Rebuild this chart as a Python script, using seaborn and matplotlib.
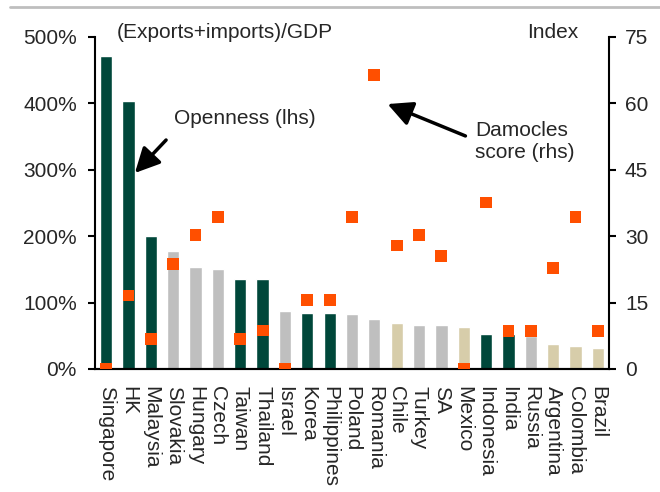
import numpy as np
import pandas as pd
import matplotlib.pyplot as plt
from matplotlib.lines import Line2D
import seaborn as sns

# Chart data
countries = ['Singapore', 'HK', 'Malaysia', 'Slovakia', 'Hungary', 'Czech', 'Taiwan',
             'Thailand', 'Israel', 'Korea', 'Philippines', 'Poland', 'Romania', 'Chile',
             'Turkey', 'SA', 'Mexico', 'Indonesia', 'India', 'Russia', 'Argentina',
             'Colombia', 'Brazil']
openness = [471, 404, 200, 177, 153, 151, 135, 135, 88, 85, 85, 83, 76, 70,
            67, 67, 64, 52, 52, 50, 37, 34, 31]
damocles = [0, 16.6, 6.8, 23.8, 30.3, 34.4, 6.8, 8.7, 0, 15.6, 15.6, 34.4, 66.4, 27.9,
            30.3, 25.5, 0, 37.6, 8.6, 8.6, 22.9, 34.3, 8.6]
group = ['d', 'd', 'd', 'g', 'g', 'g', 'd', 'd', 'g', 'd', 'd', 'g', 'g', 't',
         'g', 'g', 't', 'd', 'd', 'g', 't', 't', 't']
group_colors = {'d': '#00473a', 'g': '#bfbfbf', 't': '#d7cdaa'}

data = pd.DataFrame({'country': countries, 'openness': openness,
                     'damocles': damocles, 'group': group})

sns.set_style('white')
plt.rcParams['font.family'] = ['Liberation Sans', 'DejaVu Sans']
plt.rcParams['font.size'] = 15

fig = plt.figure(figsize=(6.6, 4.92), dpi=100)
ax = fig.add_axes([95 / 660, 1 - 369 / 492, 514 / 660, 332 / 492])

palette = [group_colors[g] for g in group]
sns.barplot(data=data, x='country', y='openness', hue='country', palette=palette,
            width=0.55, legend=False, ax=ax, saturation=1)

ax2 = ax.twinx()
sns.scatterplot(data=data, x='country', y='damocles', ax=ax2, marker='s', s=72,
                color='#ff4f00', edgecolor='none', legend=False, zorder=5)

n = len(countries)
ax.set_xlim(-0.5, n - 0.5)
ax.set_ylim(0, 500)
ax2.set_ylim(0, 75)
ax.set_yticks(range(0, 501, 100))
ax.set_yticklabels([f'{v}%' for v in range(0, 501, 100)])
ax2.set_yticks(range(0, 76, 15))

ax.set_xticks(range(n))
ax.set_xticklabels(countries, rotation=-90, va='top', ha='center')
ax.set_xticks(np.arange(-0.5, n, 1), minor=True)
ax.tick_params(axis='x', which='major', length=0, pad=12)
ax.tick_params(axis='x', which='minor', length=5, width=1.5, color='black', direction='out')
ax.tick_params(axis='y', length=5, width=1.5, color='black', direction='out', pad=8)
ax2.tick_params(axis='y', length=5, width=1.5, color='black', direction='out', pad=6.5)
ax.set_xlabel('')
ax.set_ylabel('')
ax2.set_xlabel('')
ax2.set_ylabel('')

for a in (ax, ax2):
    a.spines['top'].set_visible(False)
    for s in ('left', 'right', 'bottom'):
        a.spines[s].set_color('black')
        a.spines[s].set_linewidth(1.5)
ax.spines['right'].set_visible(False)
ax2.spines['left'].set_visible(False)

fig.text(117 / 660, 1 - 32 / 492, '(Exports+imports)/GDP', va='center', ha='left')
fig.text(578 / 660, 1 - 32 / 492, 'Index', va='center', ha='right')

fig.text(174 / 660, 1 - 118 / 492, 'Openness (lhs)', va='center', ha='left')
fig.text(475 / 660, 1 - 142 / 492, 'Damocles\nscore (rhs)', va='center', ha='left',
         linespacing=1.2)

arrow = dict(arrowstyle='-|>,head_length=1.0,head_width=0.5', color='black', lw=2.5)
fig.add_artist(plt.Annotation('', xy=(133 / 660, 1 - 175 / 492), xycoords='figure fraction',
                              xytext=(168 / 660, 1 - 138 / 492), textcoords='figure fraction',
                              arrowprops=arrow))
fig.add_artist(plt.Annotation('', xy=(385 / 660, 1 - 103 / 492), xycoords='figure fraction',
                              xytext=(468 / 660, 1 - 137 / 492), textcoords='figure fraction',
                              arrowprops=arrow))

# grey rule across the top
fig.add_artist(Line2D([10 / 660, 1], [1 - 7 / 492, 1 - 7 / 492], color='#bebebe', lw=2))

plt.savefig('out.png', dpi=100)
